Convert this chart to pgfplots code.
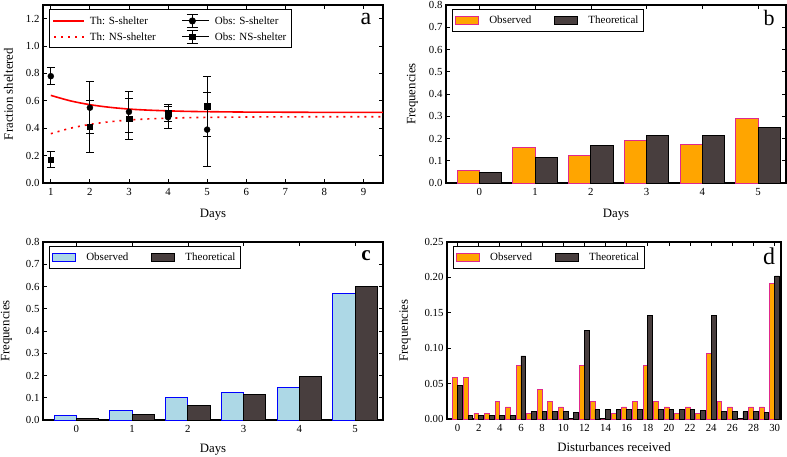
\documentclass[border=0pt]{standalone}
\usepackage{pgfplots}
\pgfplotsset{compat=1.18}
\usepackage{fontspec}
\setmainfont{Liberation Serif}
\definecolor{obsor}{RGB}{255,165,0}
\definecolor{obsedge}{RGB}{224,40,140}
\definecolor{thfill}{RGB}{72,62,62}
\definecolor{lblue}{RGB}{173,216,230}
\definecolor{bedge}{RGB}{0,0,255}
\pgfplotsset{
  myaxis/.style={
    scale only axis,
    anchor=south west,
    axis line style={line width=1.2pt},
    tick style={black, line width=0.8pt},
    major tick length=4pt,
    tick align=inside,
    /pgf/number format/assume math mode=true,
    tick label style={font=\fontsize{10.8}{12}\selectfont},
    xticklabel style={yshift=-2pt},
    label style={font=\fontsize{12.8}{14}\selectfont},
    xlabel shift=6pt,
    ylabel shift=4pt,
    legend style={font=\fontsize{11}{13}\selectfont, draw=black, line width=1pt,
      at={(0.017,0.975)}, anchor=north west, inner xsep=3pt, inner ysep=4pt},
    legend cell align=left,
  },
  barleg/.style={legend image code/.code={\draw[##1] (0cm,-4pt) rectangle (23pt,4pt);}},
  thS/.style={legend image code/.code={\draw[red, line width=1.6pt] (0pt,0pt) -- (31pt,0pt);}},
  thNS/.style={legend image code/.code={\draw[red, line width=1.6pt, dash pattern=on 2pt off 5pt] (1pt,0pt) -- (31pt,0pt);}},
  errcirc/.style={legend image code/.code={
    \path (0pt,0pt) -- (27pt,0pt);
    \draw[black,line width=1pt] (10pt,-6.5pt) -- (10pt,6.5pt);
    \draw[black,line width=1pt] (4.5pt,-6.5pt) -- (15.5pt,-6.5pt);
    \draw[black,line width=1pt] (4.5pt,6.5pt) -- (15.5pt,6.5pt);
    \fill[black] (10pt,0pt) circle (3pt);}},
  errsq/.style={legend image code/.code={
    \path (0pt,0pt) -- (27pt,0pt);
    \draw[black,line width=1pt] (10pt,-6.5pt) -- (10pt,6.5pt);
    \draw[black,line width=1pt] (4.5pt,-6.5pt) -- (15.5pt,-6.5pt);
    \draw[black,line width=1pt] (4.5pt,6.5pt) -- (15.5pt,6.5pt);
    \fill[black] (7.2pt,-2.8pt) rectangle (12.8pt,2.8pt);}},
  errsty/.style={only marks, black, forget plot,
    error bars/.cd, y dir=both, y explicit,
    error bar style={line width=1pt, black},
    error mark options={rotate=90, mark size=4pt, line width=1pt, black}},
  one/.style={yticklabel style={/pgf/number format/.cd, fixed, fixed zerofill, precision=1}},
  barlegstyle/.style={legend columns=2,
    legend style={/tikz/every odd column/.append style={column sep=8pt},
                  /tikz/every even column/.append style={column sep=21pt}}},
}
\begin{document}
\begin{tikzpicture}
\useasboundingbox (0,0) rectangle (787pt,456pt);

% ---------------- panel a
\begin{axis}[myaxis, one, at={(43pt,273pt)}, width=340pt, height=178pt,
  xmin=0.8, xmax=9.5, ymin=0, ymax=1.3,
  xtick={1,2,3,4,5,6,7,8,9}, ytick={0,0.2,0.4,0.6,0.8,1.0,1.2},
  xlabel={Days}, ylabel={Fraction sheltered}, ylabel shift=6pt,
  legend columns=2,
  legend style={/tikz/every odd column/.append style={column sep=3pt},
                /tikz/every even column/.append style={column sep=24pt},
                /tikz/row sep=2pt},
]
\addlegendimage{thS}
\addlegendentry{Th: S-shelter}
\addlegendimage{errcirc}
\addlegendentry{Obs: S-shelter}
\addlegendimage{thNS}
\addlegendentry{Th: NS-shelter}
\addlegendimage{errsq}
\addlegendentry{Obs: NS-shelter}
\addplot[red, line width=1.6pt, smooth, forget plot] coordinates {
 (1,0.640) (1.5,0.600) (2,0.572) (2.5,0.553) (3,0.540) (3.5,0.532) (4,0.527)
 (4.5,0.523) (5,0.521) (6,0.518) (7,0.517) (8,0.516) (9,0.516) (9.5,0.516)};
\addplot[red, line width=1.6pt, dash pattern=on 2pt off 5pt, smooth, forget plot] coordinates {
 (1,0.360) (1.5,0.400) (2,0.428) (2.5,0.447) (3,0.460) (3.5,0.468) (4,0.473)
 (4.5,0.477) (5,0.479) (6,0.482) (7,0.483) (8,0.484) (9,0.484) (9.5,0.484)};
\addplot[mark=*, mark size=3pt, errsty] coordinates {
 (1,0.78) +- (0,0.06) (2,0.55) +- (0,0.19) (3,0.52) +- (0,0.15)
 (4,0.48) +- (0,0.08) (5,0.39) +- (0,0.27)};
\addplot[mark=square*, mark size=2.8pt, errsty] coordinates {
 (1,0.17) +- (0,0.06) (2,0.41) +- (0,0.19) (3,0.47) +- (0,0.15)
 (4,0.51) +- (0,0.06) (5,0.56) +- (0,0.22)};
\node[font=\fontsize{24}{26}\selectfont, anchor=center, xshift=-17pt, yshift=-14pt] at (rel axis cs:1,1) {a};
\end{axis}

% ---------------- panel b
\begin{axis}[myaxis, one, barlegstyle, at={(446pt,273pt)}, width=340pt, height=178pt,
  xmin=-0.6, xmax=5.5, ymin=0, ymax=0.8,
  xtick={0,1,2,3,4,5}, ytick={0,0.1,0.2,0.3,0.4,0.5,0.6,0.7,0.8},
  xlabel={Days}, ylabel={Frequencies},
]
\addplot[ybar, bar width=0.4, bar shift=-0.2, fill=obsor, draw=obsedge, line width=1pt, barleg] coordinates {
 (0,0.058) (1,0.158) (2,0.125) (3,0.192) (4,0.175) (5,0.292)};
\addlegendentry{Observed}
\addplot[ybar, bar width=0.4, bar shift=0.2, fill=thfill, draw=black, line width=1pt, barleg] coordinates {
 (0,0.045) (1,0.116) (2,0.167) (3,0.212) (4,0.212) (5,0.251)};
\addlegendentry{Theoretical}
\node[font=\fontsize{22}{24}\selectfont, anchor=center, xshift=-17pt, yshift=-12.5pt] at (rel axis cs:1,1) {b};
\end{axis}

% ---------------- panel c
\begin{axis}[myaxis, one, barlegstyle, at={(43pt,36pt)}, width=340pt, height=178pt,
  xmin=-0.6, xmax=5.5, ymin=0, ymax=0.8,
  xtick={0,1,2,3,4,5}, ytick={0,0.1,0.2,0.3,0.4,0.5,0.6,0.7,0.8},
  xlabel={Days}, ylabel={Frequencies}, ylabel shift=7pt, xlabel shift=4pt,
]
\addplot[ybar, bar width=0.4, bar shift=-0.2, fill=lblue, draw=bedge, line width=1pt, barleg] coordinates {
 (0,0.022) (1,0.044) (2,0.100) (3,0.123) (4,0.144) (5,0.570)};
\addlegendentry{Observed}
\addplot[ybar, bar width=0.4, bar shift=0.2, fill=thfill, draw=black, line width=1pt, barleg] coordinates {
 (0,0.009) (1,0.026) (2,0.063) (3,0.113) (4,0.197) (5,0.602)};
\addlegendentry{Theoretical}
\node[font=\fontsize{21}{24}\selectfont\bfseries, anchor=center, xshift=-17pt, yshift=-14pt] at (rel axis cs:1,1) {c};
\end{axis}

% ---------------- panel d
\begin{axis}[myaxis, barlegstyle, at={(447pt,37pt)}, width=334pt, height=177pt,
  xmin=-1, xmax=30.6, ymin=0, ymax=0.25,
  xtick={0,2,...,30}, ytick={0,0.05,0.10,0.15,0.20,0.25},
  yticklabel style={/pgf/number format/.cd, fixed, fixed zerofill, precision=2},
  xlabel={Disturbances received}, ylabel={Frequencies}, ylabel shift=7pt, xlabel shift=4pt,
]
\addplot[ybar, bar width=0.45, bar shift=-0.225, fill=obsor, draw=obsedge, line width=0.9pt, barleg] coordinates {
 (0,0.058) (1,0.058) (2,0.008) (3,0.008) (4,0.025) (5,0.017) (6,0.075) (7,0.008)
 (8,0.042) (9,0.025) (10,0.017) (11,0) (12,0.075) (13,0.025) (14,0) (15,0.008)
 (16,0.017) (17,0.025) (18,0.075) (19,0.025) (20,0.017) (21,0.008) (22,0.017)
 (23,0.008) (24,0.092) (25,0.025) (26,0.017) (27,0) (28,0.017) (29,0.017) (30,0.192)};
\addlegendentry{Observed}
\addplot[ybar, bar width=0.45, bar shift=0.225, fill=thfill, draw=black, line width=0.9pt, barleg] coordinates {
 (0,0.048) (1,0.005) (2,0.005) (3,0.005) (4,0.005) (5,0.005) (6,0.089) (7,0.010)
 (8,0.010) (9,0.010) (10,0.010) (11,0.009) (12,0.125) (13,0.013) (14,0.013) (15,0.013)
 (16,0.013) (17,0.013) (18,0.146) (19,0.014) (20,0.013) (21,0.013) (22,0.013)
 (23,0.012) (24,0.146) (25,0.011) (26,0.010) (27,0.010) (28,0.010) (29,0.009) (30,0.202)};
\addlegendentry{Theoretical}
\node[font=\fontsize{24}{26}\selectfont, anchor=center, xshift=-12pt, yshift=-14pt] at (rel axis cs:1,1) {d};
\end{axis}
\end{tikzpicture}
\end{document}
